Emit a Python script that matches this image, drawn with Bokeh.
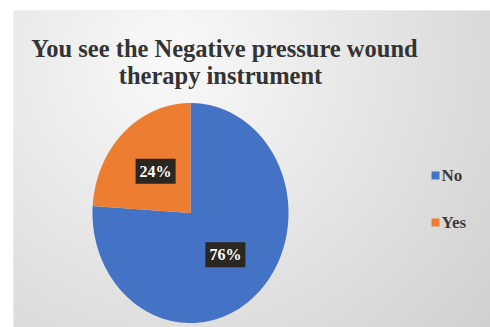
import numpy as np
from bokeh.plotting import figure
from bokeh.models import Range1d, ColumnDataSource
from bokeh.core.properties import value
from bokeh.embed import file_html
from bokeh.resources import INLINE

# ---- data ----
categories = ["No", "Yes"]
values = [76, 24]
colors = ["#4472C4", "#ED7D31"]
title_lines = ["You see the Negative pressure wound", "therapy instrument"]

# ---- layout (page pixels -> data: x = px - 13, y = 327 - py) ----
W, H = 477, 317
p = figure(width=490, height=327, output_backend="svg", toolbar_location=None,
           x_range=Range1d(0, W), y_range=Range1d(0, H),
           x_axis_location=None, y_axis_location=None,
           min_border_left=13, min_border_top=10, min_border_right=0, min_border_bottom=0)
p.grid.visible = False
p.outline_line_color = None
p.border_fill_color = "white"
p.background_fill_color = "#e4e4e4"

# soft radial background gradient (style only)
rows = np.arange(H)[:, None]
cols = np.arange(W)[None, :]
page_x = 13 + cols + 0.5
page_y = 327 - rows - 0.5
d = np.sqrt((page_x - 170) ** 2 + (page_y - 60) ** 2)
g = np.clip(250 - 0.1 * d, 0, 255).astype(np.uint8)
img = np.empty((H, W), dtype=np.uint32)
view = img.view(dtype=np.uint8).reshape((H, W, 4))
view[:, :, 0] = g
view[:, :, 1] = g
view[:, :, 2] = g
view[:, :, 3] = 255
p.image_rgba(image=[img], x=0, y=0, dw=W, dh=H)

# ---- pie (slightly elliptical like the reference) ----
cx, cy, rx, ry = 177, 114.5, 98, 110
frac = np.array(values, dtype=float) / sum(values)
cum = np.concatenate([[0.0], np.cumsum(frac)])
xs, ys, lx, ly, labels = [], [], [], [], []
for i, v in enumerate(values):
    t = np.linspace(cum[i], cum[i + 1], 200)
    ang = np.pi / 2 - 2 * np.pi * t
    xs.append(np.concatenate([[cx], cx + rx * np.cos(ang)]))
    ys.append(np.concatenate([[cy], cy + ry * np.sin(ang)]))
    mid = np.pi / 2 - 2 * np.pi * (cum[i] + cum[i + 1]) / 2
    lx.append(cx + 0.52 * rx * np.cos(mid))
    ly.append(cy + 0.52 * ry * np.sin(mid))
    labels.append(f"{v}%")

src = ColumnDataSource(dict(xs=xs, ys=ys, color=colors, cat=categories))
p.patches(xs="xs", ys="ys", fill_color="color", line_color=None, source=src)

# data labels (dark boxes, white text)
p.text(x=lx, y=ly, text=labels, text_color="white",
       text_font=value("Liberation Serif"), text_font_style="bold", text_font_size="16px",
       text_align="center", text_baseline="middle",
       background_fill_color="#2a2622", padding=4)

# ---- title ----
p.text(x=[211], y=[279], text=[title_lines[0]], text_color="#333333",
       text_font=value("Liberation Serif"), text_font_style="bold", text_font_size="24.5px",
       text_align="center", text_baseline="alphabetic")
p.text(x=[207], y=[252], text=[title_lines[1]], text_color="#333333",
       text_font=value("Liberation Serif"), text_font_style="bold", text_font_size="24.5px",
       text_align="center", text_baseline="alphabetic")

# ---- legend ----
leg_x = [422, 422]
leg_y = [152, 105]
p.scatter(x=leg_x, y=leg_y, marker="square", size=8, fill_color=colors, line_color=None)
p.text(x=[x + 6 for x in leg_x], y=leg_y, text=categories, text_color="#3a3a3a",
       text_font=value("Liberation Serif"), text_font_style="bold", text_font_size="17px",
       text_align="left", text_baseline="middle")

open("out.html", "w").write(file_html(p, INLINE))
